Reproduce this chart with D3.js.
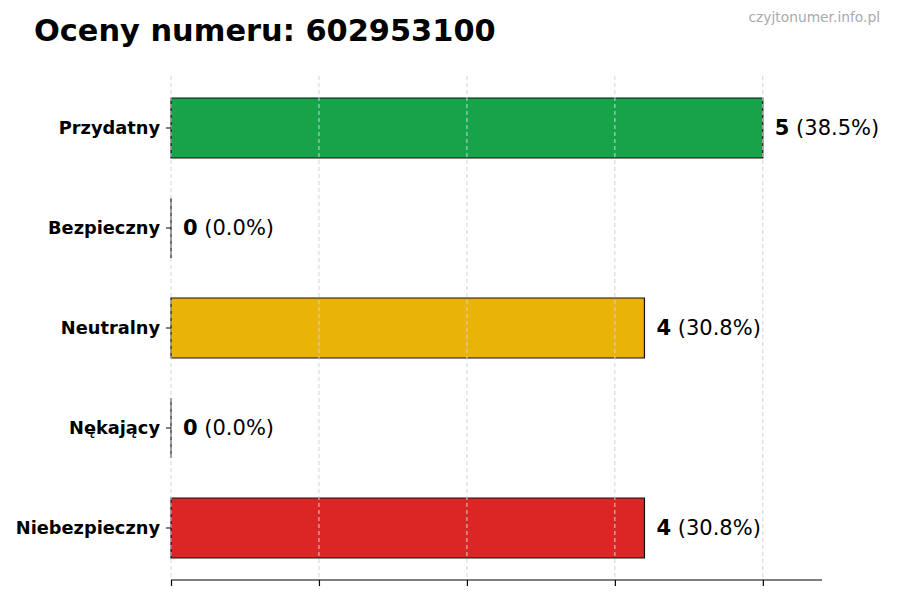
<!DOCTYPE html>
<html>
    <head>
        <meta charset="utf-8">
        <title>Oceny numeru</title>
        <style>
body {
    margin: 0;
    background: #fff;
}

#chart svg {
    display: block;
    font-family: "DejaVu Sans", sans-serif;
}

.grid line {
    stroke: #d4d4d4;
    stroke-dasharray: 4,3;
}
        </style>
    </head>
    <body>
        <div id="chart"></div>
        <script src="https://cdn.jsdelivr.net/npm/d3@7"></script>
        <script>

const categories = ["Przydatny", "Bezpieczny", "Neutralny", "Nękający", "Niebezpieczny"]
const counts = [5, 0, 4, 0, 4]
const percentLabels = ["(38.5%)", "(0.0%)", "(30.8%)", "(0.0%)", "(30.8%)"]
const colors = ["#17a34a", "#2563eb", "#eab308", "#f97316", "#dc2626"]
const gridTicks = [0, 1.25, 2.5, 3.75, 5]

const width = 900
const height = 600
const margin = {top: 76, right: 78, bottom: 20, left: 171}

const svg = d3.select("#chart").append("svg")
    .attr("width", width)
    .attr("height", height)

const x = d3.scaleLinear()
    .domain([0, 5.5])
    .range([margin.left, width - margin.right])

const y = d3.scaleBand()
    .domain(categories)
    .range([margin.top + 2, height - margin.bottom - 2])
    .paddingInner(0.4)
    .paddingOuter(0.2)

const data = categories.map((c, i) => ({cat: c, n: counts[i], pct: percentLabels[i], color: colors[i]}))

// bars (path so that a zero-width bar still shows its edge)
svg.append("g")
    .selectAll("path")
    .data(data)
    .join("path")
    .attr("d", d => {
        const x0 = x(0), w = x(d.n) - x(0), y0 = y(d.cat), h = y.bandwidth()
        return `M${x0},${y0}h${w}v${h}h${-w}Z`
    })
    .attr("fill", d => d.color)
    .attr("stroke", "#111")
    .attr("stroke-width", 1.2)

// vertical grid on top of bars
svg.append("g")
    .attr("class", "grid")
    .selectAll("line")
    .data(gridTicks)
    .join("line")
    .attr("x1", d => x(d))
    .attr("x2", d => x(d))
    .attr("y1", margin.top)
    .attr("y2", height - margin.bottom)

// bottom axis, no labels
const xAxis = svg.append("g")
    .attr("transform", `translate(0,${height - margin.bottom})`)
    .call(d3.axisBottom(x).tickValues(gridTicks).tickSize(6).tickFormat(""))
xAxis.select(".domain").attr("stroke", "#000").attr("stroke-width", 1.2).attr("d", `M${x(0)},0H${x(5.5)}`)
xAxis.selectAll(".tick line").attr("stroke", "#000").attr("stroke-width", 1.2)

// left axis: ticks and labels, no spine
const yAxis = svg.append("g")
    .attr("transform", `translate(${margin.left},0)`)
    .call(d3.axisLeft(y).tickSize(5).tickPadding(6))
yAxis.select(".domain").remove()
yAxis.selectAll(".tick line").attr("stroke", "#000")
yAxis.selectAll(".tick text")
    .attr("fill", "#000")
    .style("font-family", "'DejaVu Sans', sans-serif")
    .style("font-size", "17.8px")
    .style("font-weight", "bold")

// value labels
const labels = svg.append("g")
    .selectAll("text")
    .data(data)
    .join("text")
    .attr("x", d => x(d.n) + 12)
    .attr("y", d => y(d.cat) + y.bandwidth() / 2)
    .attr("dy", "0.35em")
    .style("font-size", "21px")
    .attr("fill", "#000")
labels.append("tspan").style("font-weight", "bold").text(d => d.n)
labels.append("tspan").text(d => " " + d.pct)

// title
svg.append("text")
    .attr("x", 34)
    .attr("y", 41)
    .style("font-size", "30.4px")
    .style("font-weight", "bold")
    .attr("fill", "#000")
    .text("Oceny numeru: 602953100")

svg.append("text")
    .attr("x", 880)
    .attr("y", 22)
    .attr("text-anchor", "end")
    .style("font-size", "13.8px")
    .attr("fill", "#aaaaaa")
    .text("czyjtonumer.info.pl")
        </script>
    </body>
</html>
